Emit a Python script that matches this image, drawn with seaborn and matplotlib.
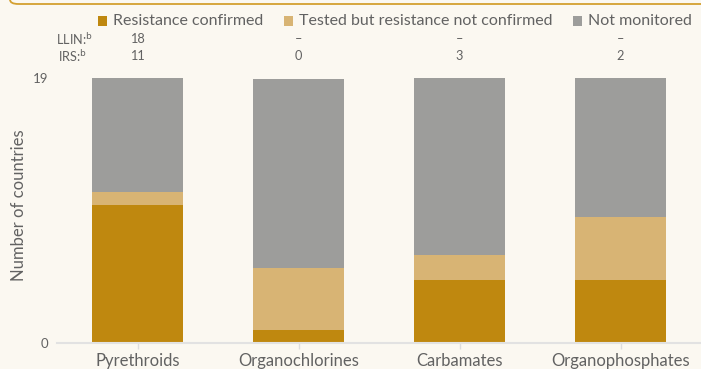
import matplotlib
matplotlib.use("Agg")
import matplotlib.pyplot as plt
from matplotlib.patches import FancyBboxPatch, Rectangle
import numpy as np
import pandas as pd
import seaborn as sns

# Insecticide classes and country counts per resistance status
classes = ["Pyrethroids", "Organochlorines", "Carbamates", "Organophosphates"]
confirmed = [9.9, 0.95, 4.5, 4.5]
tested_not_confirmed = [0.95, 4.45, 1.8, 4.5]
not_monitored = [8.15, 13.5, 12.7, 10.0]

# Countries using each class for vector control
llin_labels = ["18", "–", "–", "–"]
irs_labels = ["11", "0", "3", "2"]

series_names = ["Resistance confirmed", "Tested but resistance not confirmed", "Not monitored"]
colors = ["#BF880F", "#D8B474", "#9D9D9B"]

BG = "#FBF8F1"
TXT = "#626262"

sns.set_theme(style="white")
plt.rcParams["font.family"] = ["Lato", "DejaVu Sans"]

fig = plt.figure(figsize=(7.01, 3.69), dpi=100, facecolor=BG)
ax = fig.add_axes([57 / 701, 26 / 369, 644 / 701, 265 / 369])
ax.set_facecolor(BG)

# Stack by drawing cumulative totals, tallest first
c1 = np.array(confirmed)
c2 = c1 + np.array(tested_not_confirmed)
c3 = c2 + np.array(not_monitored)
for vals, col in zip([c3, c2, c1], colors[::-1]):
    df = pd.DataFrame({"cls": classes, "v": vals})
    sns.barplot(data=df, x="cls", y="v", color=col, width=0.565,
                saturation=1, ax=ax, linewidth=0)

ax.set_xlim(-0.5, 3.5)
ax.set_ylim(0, 19)
ax.set_yticks([0, 19])
ax.set_yticklabels(["0", "19"])
ax.set_xlabel("")
ax.set_ylabel("Number of countries", fontsize=12, color=TXT)
ax.tick_params(axis="y", length=0, labelsize=9.5, labelcolor=TXT, pad=6)
ax.tick_params(axis="x", length=4, width=1, color="#DDDDDD", labelsize=12,
               labelcolor=TXT, pad=3, bottom=True)
for s in ["top", "right", "left"]:
    ax.spines[s].set_visible(False)
ax.spines["bottom"].set_color("#E2E2E2")
ax.spines["bottom"].set_linewidth(1.5)
ax.yaxis.set_label_coords(-0.047, 0.52)

# Legend row drawn as squares and labels
leg_y = 1 - 21 / 369
for x_sq, name, col in zip([98, 284, 573], series_names, colors):
    fig.patches.append(Rectangle((x_sq / 701, leg_y - 4.5 / 369), 9 / 701, 9 / 369,
                                 transform=fig.transFigure, facecolor=col,
                                 edgecolor="none"))
    fig.text((x_sq + 15) / 701, leg_y, name, fontsize=11.5, color=TXT,
             va="center", ha="left")

# LLIN / IRS rows above the bars
trans = matplotlib.transforms.blended_transform_factory(ax.transData, fig.transFigure)
y_llin = 1 - 39 / 369
y_irs = 1 - 56 / 369
fig.text(74 / 701, y_llin, "LLIN:$^{\\mathrm{b}}$", fontsize=9.2, color=TXT, va="center", ha="center")
fig.text(73 / 701, y_irs, "IRS:$^{\\mathrm{b}}$", fontsize=9.2, color=TXT, va="center", ha="center")
for i, (a, b) in enumerate(zip(llin_labels, irs_labels)):
    ax.text(i, y_llin, a, transform=trans, fontsize=9.2,
            color=TXT, ha="center", va="center")
    ax.text(i, y_irs, b, transform=trans, fontsize=9.2,
            color=TXT, ha="center", va="center")

# Frame edge of the panel above
fig.patches.append(FancyBboxPatch((10 / 701, 1 - 4 / 369), 720 / 701, 60 / 369,
                                  boxstyle="round,pad=0,rounding_size=0.012",
                                  transform=fig.transFigure, facecolor="none",
                                  edgecolor="#D4A030", linewidth=1.3, clip_on=False))

fig.savefig("out.png", dpi=100, facecolor=BG)
